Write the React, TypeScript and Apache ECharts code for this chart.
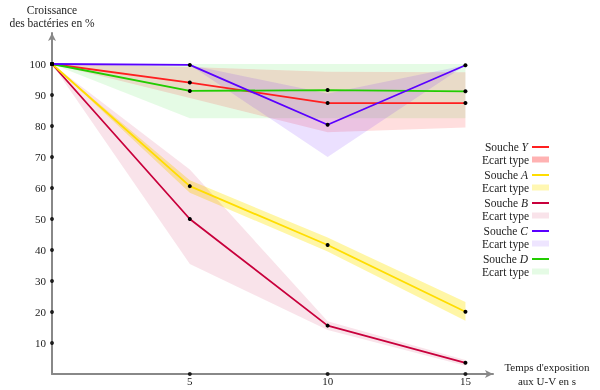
import React, { useEffect, useRef } from "react";
import * as echarts from "echarts";

const xs = [0, 5, 10, 15];

const meanY = [100, 94, 87.4, 87.4];
const lowY = [100, 89, 78, 79.5];
const highY = [100, 99, 97.5, 97.3];

const meanA = [100, 60.6, 41.6, 20.1];
const lowA = [100, 58.5, 39.5, 17.2];
const highA = [100, 62.5, 44, 23.2];

const meanB = [100, 50, 15.6, 3.6];
const lowB = [100, 35.5, 14.2, 2.7];
const highB = [100, 66, 17, 4.5];

const meanC = [100, 99.7, 80.4, 99.6];
const lowC = [100, 99.7, 70, 99.6];
const highC = [100, 99.7, 90.5, 99.6];

const meanD = [100, 91.3, 91.6, 91.2];
const lowD = [100, 82.5, 82.5, 82.5];
const highD = [100, 100, 100, 100];

const yTickValues = [10, 20, 30, 40, 50, 60, 70, 80, 90, 100];
const xTickValues = [5, 10, 15];

const strains = [
  { key: "Y", mean: meanY, low: lowY, high: highY, color: "#ff1f1f", band: "rgba(255,0,0,0.13)", legendBand: "rgba(255,0,0,0.3)" },
  { key: "A", mean: meanA, low: lowA, high: highA, color: "#ffdd00", band: "rgba(255,228,0,0.35)", legendBand: "rgba(255,228,0,0.3)" },
  { key: "B", mean: meanB, low: lowB, high: highB, color: "#c8003c", band: "rgba(200,0,60,0.11)", legendBand: "rgba(200,0,60,0.11)" },
  { key: "C", mean: meanC, low: lowC, high: highC, color: "#5a00ff", band: "rgba(90,0,255,0.12)", legendBand: "rgba(90,0,255,0.1)" },
  { key: "D", mean: meanD, low: lowD, high: highD, color: "#22cc00", band: "rgba(0,220,0,0.1)", legendBand: "rgba(0,220,0,0.1)" },
];

const SERIF = "'Liberation Serif', 'DejaVu Serif', serif";

export default function App() {
  const ref = useRef<HTMLDivElement>(null);
  useEffect(() => {
    if (!ref.current) return;
    const chart = echarts.init(ref.current, undefined, { renderer: "svg" });

    const series: any[] = [];
    const bandOrder = ["D", "Y", "C", "A", "B"];
    bandOrder.forEach((k) => {
      const s = strains.find((t) => t.key === k)!;
      series.push({
        type: "custom",
        name: "Ecart type " + s.key,
        data: xs.map((x, i) => [x, s.low[i], s.high[i]]),
        encode: { x: 0, y: [1, 2] },
        silent: true,
        clip: false,
        z: 1,
        renderItem: (params: any, api: any) => {
          if (params.dataIndex !== 0) return null;
          const upper = xs.map((x, i) => api.coord([x, s.high[i]]));
          const lower = xs.map((x, i) => api.coord([x, s.low[i]])).reverse();
          return {
            type: "polygon",
            shape: { points: upper.concat(lower) },
            style: { fill: s.band, stroke: "none" },
          };
        },
      });
    });
    const lineOrder = ["B", "A", "Y", "D", "C"];
    lineOrder.forEach((k) => {
      const s = strains.find((t) => t.key === k)!;
      series.push({
        type: "line",
        name: "Souche " + s.key,
        data: xs.map((x, i) => [x, s.mean[i]]),
        symbol: "circle",
        symbolSize: 4,
        itemStyle: { color: "#000" },
        lineStyle: { color: s.color, width: 1.8 },
        z: 3,
      });
    });
    series.push({
      type: "scatter",
      name: "ticks",
      data: [
        ...yTickValues.map((v) => [0, v]),
        ...xTickValues.map((v) => [v, 0]),
      ],
      symbolSize: 4,
      itemStyle: { color: "#000" },
      clip: false,
      silent: true,
      z: 4,
    });

    const legendGraphics: any[] = [];
    strains.forEach((s, i) => {
      const y0 = 147 + i * 28;
      const y1 = y0 + 12.5;
      legendGraphics.push({
        type: "text",
        x: 528,
        y: y0,
        style: {
          text: "{n|Souche }{i|" + s.key + "}",
          align: "right",
          verticalAlign: "middle",
          rich: {
            n: { fontFamily: SERIF, fontSize: 11.5, fill: "#222" },
            i: { fontFamily: SERIF, fontSize: 11.5, fontStyle: "italic", fill: "#222" },
          },
        },
      });
      legendGraphics.push({
        type: "rect",
        shape: { x: 532, y: y0 - 1, width: 17, height: 2 },
        style: { fill: s.color },
      });
      legendGraphics.push({
        type: "text",
        x: 529,
        y: y1,
        style: {
          text: "Ecart type",
          align: "right",
          verticalAlign: "middle",
          fontFamily: SERIF,
          fontSize: 11.5,
          fill: "#222",
        },
      });
      legendGraphics.push({
        type: "rect",
        shape: { x: 532, y: y1 - 3, width: 17, height: 6 },
        style: { fill: s.legendBand },
      });
    });

    chart.setOption({
      animation: false,
      grid: { left: 52, right: 107, top: 33, bottom: 16, containLabel: false },
      xAxis: {
        type: "value",
        min: 0,
        max: 16,
        interval: 5,
        name: "Temps d'exposition\naux U-V en s",
        nameLocation: "end",
        nameGap: 54,
        nameTextStyle: {
          fontFamily: SERIF,
          fontSize: 11,
          color: "#222",
          align: "center",
          verticalAlign: "middle",
          lineHeight: 14,
        },
        axisLine: {
          show: true,
          lineStyle: { color: "#888", width: 2 },
          symbol: ["none", "arrow"],
          symbolSize: [6, 8],
        },
        axisTick: { show: false },
        splitLine: { show: false },
        axisLabel: {
          fontFamily: SERIF,
          fontSize: 11,
          color: "#222",
          margin: 1,
          formatter: (v: number) => (xTickValues.indexOf(v) >= 0 ? String(v) : ""),
        },
      },
      yAxis: {
        type: "value",
        min: 0,
        max: 110,
        interval: 10,
        name: "Croissance\ndes bactéries en %",
        nameLocation: "end",
        nameGap: 4,
        nameTextStyle: {
          fontFamily: SERIF,
          fontSize: 11.5,
          color: "#222",
          align: "center",
          verticalAlign: "bottom",
          lineHeight: 13,
        },
        axisLine: {
          show: true,
          lineStyle: { color: "#888", width: 2 },
          symbol: ["none", "arrow"],
          symbolSize: [6, 8],
        },
        axisTick: { show: false },
        splitLine: { show: false },
        axisLabel: {
          fontFamily: SERIF,
          fontSize: 11,
          color: "#222",
          margin: 6,
          formatter: (v: number) => (yTickValues.indexOf(v) >= 0 ? String(v) : ""),
        },
      },
      series,
      graphic: legendGraphics,
    });

    return () => chart.dispose();
  }, []);
  return (
    <div
      ref={ref}
      style={{ position: "fixed", left: 0, top: 0, width: 600, height: 390 }}
    />
  );
}
